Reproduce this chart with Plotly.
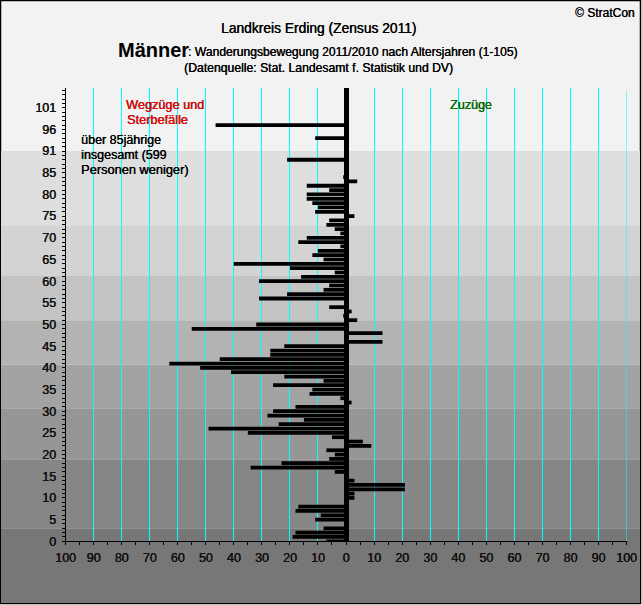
import plotly.graph_objects as go

# positions on the age axis (the reference skips labels above 85)
positions = list(range(0, 97))
values = [
 -7,-19,-18,-8,0,-11,-9,-18,-17,0,3,3,21,21,3,0,-4,-34,-23,-6,-4,-7,9,6,-5,-35,-49,-24,-15,-28,
 -26,-18,2,-2,-13,-12,-26,-8,-22,-41,-52,-63,-45,-27,-27,-22,13,0,13,-55,-32,4,-1,2,-6,0,-31,-21,-8,-6,
 -31,-16,-4,-20,-40,-8,-12,-10,-2,-17,-14,-2,-4,-7,-6,3,-11,-10,-12,-14,-14,-6,-14,4,-1,0,0,0,-21,0,
 0,0,0,-11,0,0,-46.5]
y_ticks = list(range(0, 90, 5)) + [90, 95, 100]
y_labels = [str(v) for v in range(0, 90, 5)] + ["91", "96", "101"]
x_ticks = list(range(-100, 101, 10))
x_labels = [str(abs(v)) for v in x_ticks]
band_edges = [3, 18.9, 30.7, 40.8, 51, 61.2, 72.7, 90]
band_colors = ["#868686", "#969696", "#a3a3a3", "#b3b3b3", "#c3c3c3", "#d3d3d3", "#dedede"]

W, H = 642, 605
X0, X1 = 65.5, 626.5
YB, YT = 541.3, 88.2
YMAX = 104.5
FONT = "Liberation Sans"
SHADOW = "0.35px 0 0 currentColor"

def py(age):
    return 1 - (YB - (YB - YT) * age / YMAX) / H

fig = go.Figure(go.Bar(x=values, y=positions, orientation="h", width=0.87,
                       marker=dict(color="black", line=dict(width=0))))
frame = dict(type="rect", xref="paper", yref="paper", layer="below")
shapes = [dict(frame, x0=0.5/W, x1=640.5/W, y0=1-603.5/H, y1=1-0.5/H, fillcolor="#f2f2f2", line=dict(color="black", width=1.5))]
shapes.append(dict(frame, x0=1/W, x1=640/W, y0=1-603/H, y1=py(band_edges[0]), fillcolor="#777777", line_width=0))
for i, c in enumerate(band_colors):
    shapes.append(dict(frame, x0=1/W, x1=640/W, y0=py(band_edges[i]), y1=py(band_edges[i+1]), fillcolor=c, line_width=0))
shapes.append(dict(type="line", xref="x", yref="y", x0=100, x1=100, y0=0, y1=104, line=dict(color="#00ffff", width=1), layer="between"))

tf = dict(size=12.5, color="#111111", shadow=SHADOW)
fig.update_layout(
    template="none",
    width=W, height=H, autosize=False, showlegend=False, paper_bgcolor="white", plot_bgcolor="rgba(0,0,0,0)",
    margin=dict(l=0, r=0, t=0, b=0, pad=0, autoexpand=False), font=dict(family=FONT, color="black", size=12), shapes=shapes,
    xaxis=dict(domain=[X0/W, X1/W], anchor="y", range=[-100, 100], tickvals=x_ticks, ticktext=x_labels, showgrid=True, gridcolor="#00ffff", gridwidth=1,
               automargin=False, zeroline=True, zerolinecolor="black", zerolinewidth=5, showline=True, linecolor="black", linewidth=1,
               ticks="outside", ticklen=3, tickcolor="black", tickwidth=1, tickfont=tf, ticklabelstandoff=2,
               minor=dict(dtick=5, ticks="outside", ticklen=3, tickcolor="black", showgrid=False)),
    yaxis=dict(domain=[1-YB/H, 1-YT/H], anchor="x", range=[0, YMAX], tickvals=y_ticks, ticktext=y_labels, showgrid=False, zeroline=False, showline=True,
               automargin=False, linecolor="black", linewidth=1, ticks="outside", ticklen=3, tickcolor="black", tickwidth=1,
               tickfont=tf, ticklabelstandoff=3,
               minor=dict(dtick=1, ticks="outside", ticklen=3, tickcolor="black")),
    xaxis2=dict(domain=[X0/W, X1/W], anchor="y2", overlaying="x", range=[-100, 100], showgrid=False, zeroline=False, showticklabels=False,
                automargin=False, ticks="inside", ticklen=2, dtick=5, tick0=0, tickcolor="black"),
    yaxis2=dict(domain=[1-YB/H, 1-YT/H], anchor="x2", overlaying="y", range=[0, YMAX], showgrid=False, zeroline=False, showticklabels=False,
                automargin=False, ticks="inside", ticklen=2, dtick=1, tick0=0, tickcolor="black"),
)
def label(px, pyy, text, size=12, color="black", anchor="left", shadow=True):
    fig.add_annotation(xref="paper", yref="paper", x=px/W, y=1-pyy/H, text=text, showarrow=False,
                       xanchor=anchor, yanchor="middle", align=anchor, borderpad=0, borderwidth=0,
                       font=dict(size=size, color=color, family=FONT, shadow=SHADOW if shadow else "none"))
label(635, 13, "© StratCon", 12, "black", "right")
label(318, 28, "Landkreis Erding (Zensus 2011)", 13.8, "black", "center")
label(118, 50, "<b>Männer</b>", 20, shadow=False)
label(188, 52, ": Wanderungsbewegung 2011/2010 nach Altersjahren (1-105)", 12.1)
label(318, 68, "(Datenquelle: Stat. Landesamt f. Statistik und DV)", 12.2, "black", "center")
label(125.5, 105, "Wegzüge und", 12.7, "#ff0000")
label(126.5, 120.5, "Sterbefälle", 12.7, "#ff0000")
label(450, 105, "Zuzüge", 12.5, "#008000")
label(81, 140, "über 85jährige", 12.5)
label(81, 155, "insgesamt (599", 12.5)
label(81, 170, "Personen weniger)", 12.8)
fig.write_html("out.html", config=dict(displayModeBar=False),
               post_script="document.body.style.margin='0';document.body.style.overflow='hidden';")
